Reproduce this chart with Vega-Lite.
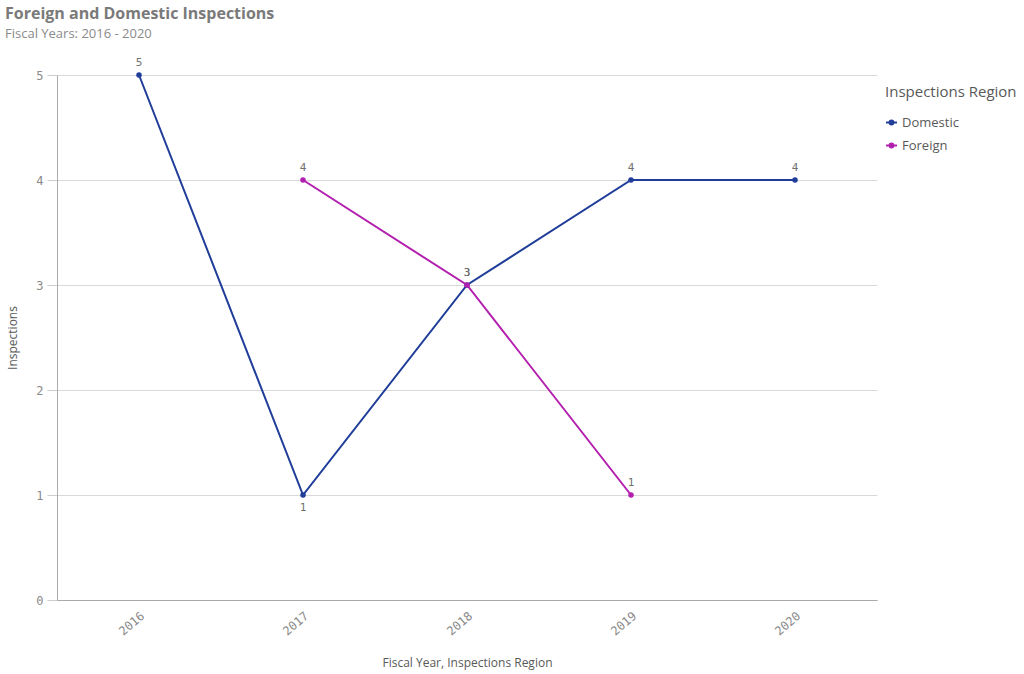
{
  "$schema": "https://vega.github.io/schema/vega-lite/v6.json",
  "autosize": {"type": "none"},
  "padding": {"left": 57, "top": 75, "right": 148, "bottom": 74},
  "width": 820,
  "height": 525,
  "background": "white",
  "title": {
    "text": "Foreign and Domestic Inspections",
    "subtitle": "Fiscal Years: 2016 - 2020",
    "anchor": "start",
    "frame": "group",
    "dx": -52,
    "offset": 16,
    "font": "Open Sans",
    "fontSize": 16,
    "fontWeight": "bold",
    "color": "#7a7a7a",
    "subtitleFont": "Open Sans",
    "subtitleFontSize": 13,
    "subtitleColor": "#8a8a8a",
    "subtitlePadding": 6
  },
  "data": {
    "values": [
      {"Year": "2016", "Region": "Domestic", "Inspections": 5},
      {"Year": "2017", "Region": "Domestic", "Inspections": 1},
      {"Year": "2018", "Region": "Domestic", "Inspections": 3},
      {"Year": "2019", "Region": "Domestic", "Inspections": 4},
      {"Year": "2020", "Region": "Domestic", "Inspections": 4},
      {"Year": "2017", "Region": "Foreign", "Inspections": 4},
      {"Year": "2018", "Region": "Foreign", "Inspections": 3},
      {"Year": "2019", "Region": "Foreign", "Inspections": 1}
    ]
  },
  "encoding": {
    "x": {
      "field": "Year",
      "type": "ordinal",
      "scale": {"type": "point", "padding": 0.5},
      "axis": {
        "title": "Fiscal Year, Inspections Region",
        "labelAngle": -40,
        "labelFont": "DejaVu Sans Mono",
        "labelFontSize": 12,
        "labelColor": "#8a8a8a",
        "labelPadding": 10,
        "ticks": false,
        "domainColor": "#aaaaaa",
        "titleFont": "Open Sans",
        "titleFontSize": 12,
        "titleFontWeight": "normal",
        "titleColor": "#595959",
        "titlePadding": 20,
        "grid": false
      }
    },
    "y": {
      "field": "Inspections",
      "type": "quantitative",
      "scale": {"domain": [0, 5], "nice": false},
      "axis": {
        "title": "Inspections",
        "values": [0, 1, 2, 3, 4, 5],
        "labelFont": "DejaVu Sans Mono",
        "labelFontSize": 12,
        "labelColor": "#8a8a8a",
        "tickSize": 10,
        "tickColor": "#cccccc",
        "labelPadding": 4,
        "domainColor": "#aaaaaa",
        "gridColor": "#d9d9d9",
        "titleFont": "Open Sans",
        "titleFontSize": 12,
        "titleFontWeight": "normal",
        "titleColor": "#595959",
        "titlePadding": 16
      }
    },
    "color": {
      "field": "Region",
      "type": "nominal",
      "scale": {"domain": ["Domestic", "Foreign"], "range": ["#1f3d99", "#b31fae"]},
      "legend": {
        "title": "Inspections Region",
        "orient": "none",
        "legendX": 828,
        "legendY": 10,
        "titleFont": "Open Sans",
        "titleFontSize": 15,
        "titleFontWeight": "normal",
        "titleColor": "#595959",
        "titlePadding": 16,
        "labelFont": "Open Sans",
        "labelFontSize": 13,
        "labelColor": "#595959",
        "rowPadding": 9,
        "symbolType": "M-1,0L1,0M-0.35,0A0.35,0.35 0 1,1 0.35,0A0.35,0.35 0 1,1 -0.35,0Z",
        "symbolSize": 120,
        "symbolStrokeWidth": 2,
        "encode": {"symbols": {"update": {"fill": {"scale": "color", "field": "value"}}}}
      }
    }
  },
  "layer": [
    {
      "mark": {"type": "line", "strokeWidth": 2, "point": {"filled": true, "size": 30}}
    },
    {
      "transform": [{"filter": "!(datum.Region == 'Domestic' && datum.Year == '2017')"}],
      "mark": {"type": "text", "dy": -12, "font": "DejaVu Sans Mono", "fontSize": 11},
      "encoding": {"text": {"field": "Inspections", "type": "quantitative"}, "color": {"value": "#707070"}}
    },
    {
      "transform": [{"filter": "datum.Region == 'Domestic' && datum.Year == '2017'"}],
      "mark": {"type": "text", "dy": 13, "font": "DejaVu Sans Mono", "fontSize": 11},
      "encoding": {"text": {"field": "Inspections", "type": "quantitative"}, "color": {"value": "#707070"}}
    }
  ],
  "config": {"view": {"stroke": null}}
}
